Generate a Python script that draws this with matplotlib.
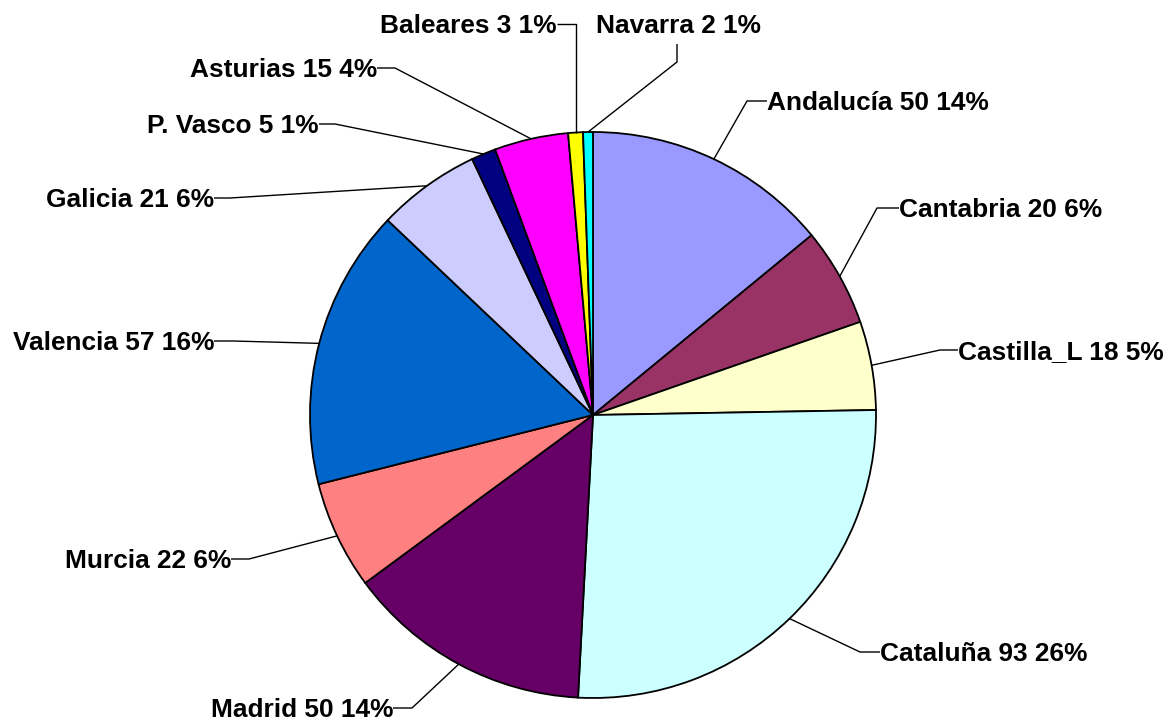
import numpy as np
import matplotlib.pyplot as plt

regions = ['Andalucía', 'Cantabria', 'Castilla_L', 'Cataluña', 'Madrid', 'Murcia',
           'Valencia', 'Galicia', 'P. Vasco', 'Asturias', 'Baleares', 'Navarra']
counts = [50, 20, 18, 93, 50, 22, 57, 21, 5, 15, 3, 2]
colors = ['#9999FF', '#993366', '#FFFFCC', '#CCFFFF', '#660066', '#FF8080',
          '#0066CC', '#CCCCFF', '#000080', '#FF00FF', '#FFFF00', '#00FFFF']

W, H = 1169, 717
CX, CY, R = 593, 415, 283  # pie centre / radius in pixels

# leader line layout in pixels: elbow, end of line, text side
layout = {
    'Andalucía': ((747, 101), (767, 101), 'left'),
    'Cantabria': ((877, 208), (899, 208), 'left'),
    'Castilla_L': ((940, 350), (958, 350), 'left'),
    'Cataluña': ((860, 652), (880, 652), 'left'),
    'Madrid': ((412, 708), (393, 708), 'right'),
    'Murcia': ((249, 559), (231, 559), 'right'),
    'Valencia': ((233, 341), (214, 341), 'right'),
    'Galicia': ((230, 198), (214, 198), 'right'),
    'P. Vasco': ((335, 124), (319, 124), 'right'),
    'Asturias': ((395, 68), (377, 68), 'right'),
    'Baleares': ((None, 24), (557, 24), 'right'),
    'Navarra': ((677, 62), (677, 44), 'center'),
}
navarra_text = (678, 23.5)


def to_data(px, py):
    return (px - CX) / R, (CY - py) / R


fig = plt.figure(figsize=(W / 100, H / 100), dpi=100)
ax = fig.add_axes([0, 0, 1, 1])

wedges, _ = ax.pie(counts, colors=colors, startangle=90, counterclock=False,
                   radius=1.0, wedgeprops=dict(edgecolor='black', linewidth=1.3))

# pie() resets the limits, so set them afterwards
ax.set_xlim(-CX / R, (W - CX) / R)
ax.set_ylim(-(H - CY) / R, CY / R)
ax.set_aspect('equal')
ax.axis('off')

total = sum(counts)
fs = 18.9
cap_half = 0.716 * fs * 100 / 72 / 2 / R  # half cap height, data units

for w, name, n in zip(wedges, regions, counts):
    mid = np.deg2rad((w.theta1 + w.theta2) / 2)
    ax0, ay0 = np.cos(mid), np.sin(mid)
    elbow, end, side = layout[name]
    ex = elbow[0] if elbow[0] is not None else CX + R * ax0
    bx, by = to_data(ex, elbow[1])
    tx, ty = to_data(*end)
    ax.plot([ax0, bx, tx], [ay0, by, ty], color='black', lw=1.0, solid_capstyle='butt')
    label = f'{name} {n} {round(100 * n / total)}%'
    if side == 'center':
        px, py = to_data(*navarra_text)
        ax.text(px, py - cap_half, label, ha='center', va='baseline',
                fontsize=fs, fontweight='bold', family='Liberation Sans')
        continue
    ax.text(tx, ty - cap_half, label, ha=side, va='baseline',
            fontsize=fs, fontweight='bold', family='Liberation Sans')

fig.savefig('out.png', dpi=100)
